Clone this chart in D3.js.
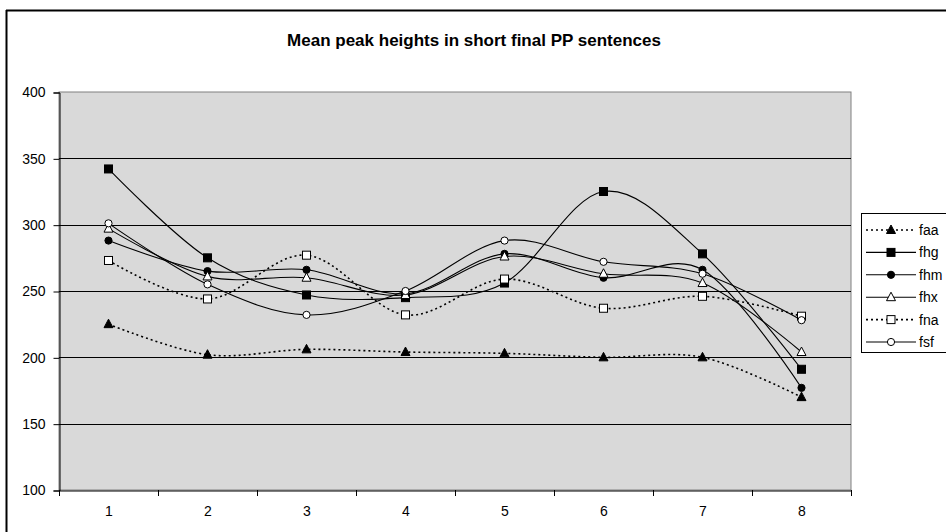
<!DOCTYPE html>
<html><head><meta charset="utf-8">
<script src="https://cdn.jsdelivr.net/npm/d3@7"></script>
<style>html,body{margin:0;padding:0;background:#fff;overflow:hidden}svg{display:block;font-family:"Liberation Sans",Arial,sans-serif}</style>
</head><body>
<svg id="c" width="946" height="532"></svg>
<script>
const categories = [1, 2, 3, 4, 5, 6, 7, 8];
const yTicks = [100, 150, 200, 250, 300, 350, 400];
const seriesNames = ["faa", "fhg", "fhm", "fhx", "fna", "fsf"];
const faa = [225, 202, 206, 204, 203, 200, 200, 170];
const fhg = [342, 275, 247, 245, 256, 325, 278, 191];
const fhm = [288, 265, 266, 248, 278, 260, 266, 177];
const fhx = [297, 261, 260, 247, 276, 263, 256, 204];
const fna = [273, 244, 277, 232, 259, 237, 246, 231];
const fsf = [301, 255, 232, 250, 288, 272, 263, 228];
const title = "Mean peak heights in short final PP sentences";

const series = [
  {name: "faa", values: faa, marker: "triangle", fill: "#000", dash: "2,3"},
  {name: "fhg", values: fhg, marker: "square", fill: "#000", dash: null},
  {name: "fhm", values: fhm, marker: "circle", fill: "#000", dash: null},
  {name: "fhx", values: fhx, marker: "triangle", fill: "#fff", dash: null},
  {name: "fna", values: fna, marker: "square", fill: "#fff", dash: "2,3"},
  {name: "fsf", values: fsf, marker: "circle", fill: "#fff", dash: null}
];

const svg = d3.select("#c");
const L = 59, R = 851, T = 92, B = 490;
const FONT = "Liberation Sans, Arial, sans-serif";

// outer chart frame
svg.append("line").attr("x1", 6).attr("x2", 946).attr("y1", 10.5).attr("y2", 10.5).attr("stroke", "#000").attr("stroke-width", 2);
svg.append("line").attr("x1", 6.5).attr("x2", 6.5).attr("y1", 10).attr("y2", 532).attr("stroke", "#000").attr("stroke-width", 2);

svg.append("text").attr("x", 474).attr("y", 46).attr("text-anchor", "middle")
  .attr("font-size", 17).attr("font-weight", "bold").text(title);

const x = d3.scaleBand().domain(categories).range([L, R]);
const y = d3.scaleLinear().domain([100, 400]).range([B, T]);

svg.append("rect").attr("x", L).attr("y", T).attr("width", R - L).attr("height", B - T)
  .attr("fill", "#d9d9d9").attr("stroke", "#808080").attr("stroke-width", 1);

// gridlines
svg.append("g").selectAll("line").data(yTicks.filter(v => v > 100 && v < 400)).join("line")
  .attr("x1", L).attr("x2", R).attr("y1", d => Math.round(y(d)) + 0.5).attr("y2", d => Math.round(y(d)) + 0.5)
  .attr("stroke", "#000").attr("stroke-width", 1);

// y axis
const yAxis = d3.axisLeft(y).tickValues(yTicks).tickSize(6).tickPadding(8);
const gy = svg.append("g").attr("transform", `translate(${L + 0.5},0.5)`).call(yAxis);
gy.select(".domain").attr("stroke", "#000");
gy.selectAll("text").attr("font-size", 14).attr("fill", "#000").attr("font-family", FONT);

// x axis
const xAxis = d3.axisBottom(x).tickSize(0).tickPadding(16);
const gx = svg.append("g").attr("transform", `translate(0.5,${B + 0.5})`).call(xAxis);
gx.select(".domain").attr("stroke", "#000");
gx.selectAll("text").attr("font-size", 14).attr("fill", "#000").attr("font-family", FONT);
// boundary tick marks
const bounds = d3.range(categories.length + 1).map(i => L + i * x.step());
svg.append("g").selectAll("line").data(bounds).join("line")
  .attr("x1", d => Math.round(d) + 0.5).attr("x2", d => Math.round(d) + 0.5)
  .attr("y1", B).attr("y2", B + 6).attr("stroke", "#000");

const cx = c => x(c) + x.bandwidth() / 2;
const line = d3.line().curve(d3.curveCardinal.tension(0));

function drawMarker(g, type, fill, px, py) {
  if (type === "square") {
    g.append("rect").attr("x", px - 4).attr("y", py - 4).attr("width", 8).attr("height", 8)
      .attr("fill", fill).attr("stroke", "#000").attr("stroke-width", 1);
  } else if (type === "circle") {
    g.append("circle").attr("cx", px).attr("cy", py).attr("r", 3.6)
      .attr("fill", fill).attr("stroke", "#000").attr("stroke-width", 1);
  } else {
    g.append("path").attr("d", `M${px},${py - 5}L${px + 4.5},${py + 3.5}L${px - 4.5},${py + 3.5}Z`)
      .attr("fill", fill).attr("stroke", "#000").attr("stroke-width", 1);
  }
}

const plot = svg.append("g");
series.forEach(s => {
  const pts = categories.map((c, i) => [cx(c), y(s.values[i])]);
  plot.append("path").attr("d", line(pts)).attr("fill", "none").attr("stroke", "#000")
    .attr("stroke-width", s.dash ? 1.6 : 1.1).attr("stroke-dasharray", s.dash);
});
series.forEach(s => {
  const g = plot.append("g");
  categories.forEach((c, i) => drawMarker(g, s.marker, s.fill, cx(c), y(s.values[i])));
});

// legend
const lg = svg.append("g");
lg.append("rect").attr("x", 861.5).attr("y", 213.5).attr("width", 120).attr("height", 139)
  .attr("fill", "#fff").attr("stroke", "#000");
series.forEach((s, i) => {
  const ly = 230 + i * 22.4;
  lg.append("line").attr("x1", 866).attr("x2", 916).attr("y1", ly).attr("y2", ly)
    .attr("stroke", "#000").attr("stroke-width", s.dash ? 1.6 : 1.1).attr("stroke-dasharray", s.dash);
  drawMarker(lg, s.marker, s.fill, 891, ly);
  lg.append("text").attr("x", 919).attr("y", ly + 5).attr("font-size", 14).text(s.name);
});
</script>
</body></html>
